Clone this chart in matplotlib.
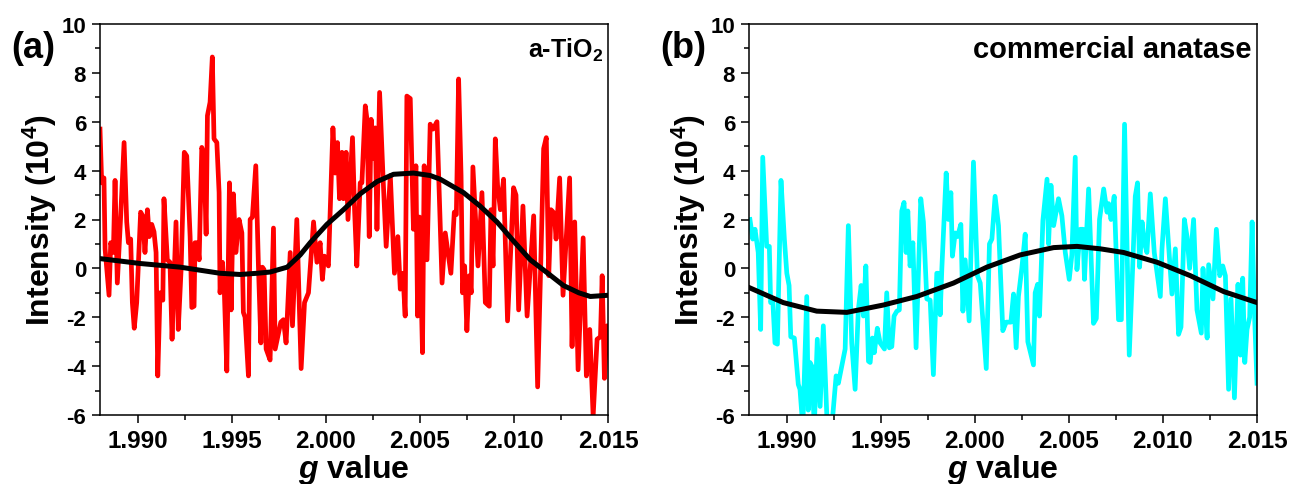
import matplotlib
matplotlib.use("Agg")
import matplotlib.pyplot as plt
from matplotlib.ticker import MultipleLocator

plt.rcParams['font.family'] = ['Liberation Sans', 'DejaVu Sans']
plt.rcParams['font.weight'] = 'bold'
plt.rcParams['axes.unicode_minus'] = False
plt.rcParams['mathtext.fontset'] = 'custom'
plt.rcParams['mathtext.rm'] = 'Liberation Sans:weight=bold'
plt.rcParams['mathtext.bf'] = 'Liberation Sans:weight=bold'
plt.rcParams['mathtext.it'] = 'Liberation Sans:style=italic:weight=bold'

# (a) a-TiO2 spectrum, g value vs intensity (10^4)
g_a = [1.98800, 1.98809, 1.98821, 1.98827, 1.98848, 1.98857, 1.98871, 1.98880, 1.98892, 1.98910,
       1.98928, 1.98942, 1.98951, 1.98963, 1.98972, 1.98982, 1.98995, 1.99016, 1.99027, 1.99039,
       1.99052, 1.99062, 1.99075, 1.99087, 1.99098, 1.99107, 1.99119, 1.99134, 1.99140, 1.99158,
       1.99172, 1.99183, 1.99204, 1.99216, 1.99231, 1.99248, 1.99261, 1.99279, 1.99288, 1.99300,
       1.99305, 1.99318, 1.99327, 1.99341, 1.99353, 1.99364, 1.99371, 1.99385, 1.99397, 1.99406,
       1.99421, 1.99433, 1.99438, 1.99451, 1.99461, 1.99474, 1.99488, 1.99497, 1.99509, 1.99522,
       1.99539, 1.99554, 1.99562, 1.99571, 1.99589, 1.99598, 1.99610, 1.99628, 1.99642, 1.99655,
       1.99663, 1.99672, 1.99683, 1.99704,
       1.99722, 1.99731, 1.99761, 1.99775, 1.99789, 1.99811, 1.99823, 1.99846, 1.99869, 1.99887,
       1.99908, 1.99935, 1.99953, 1.99970, 1.99982, 1.99993, 2.00014, 2.00038, 2.00050, 2.00062,
       2.00073, 2.00086, 2.00094, 2.00108, 2.00118, 2.00142, 2.00153, 2.00165, 2.00183, 2.00192,
       2.00210, 2.00219, 2.00231, 2.00241, 2.00250, 2.00263, 2.00272, 2.00286, 2.00304, 2.00321,
       2.00343, 2.00365, 2.00383, 2.00396, 2.00410, 2.00422, 2.00431, 2.00449, 2.00466, 2.00479,
       2.00488, 2.00498, 2.00514, 2.00523, 2.00538, 2.00555, 2.00570, 2.00591,
       2.00618, 2.00635, 2.00665, 2.00683, 2.00694, 2.00706, 2.00719, 2.00727, 2.00738, 2.00750,
       2.00763, 2.00773, 2.00782, 2.00809, 2.00830, 2.00848, 2.00869, 2.00878, 2.00889, 2.00901,
       2.00913, 2.00928, 2.00945, 2.00966, 2.00998, 2.01011, 2.01025, 2.01048, 2.01070, 2.01083,
       2.01105, 2.01126, 2.01158, 2.01172, 2.01185, 2.01197, 2.01215, 2.01224, 2.01243, 2.01261,
       2.01296, 2.01309, 2.01323, 2.01341, 2.01368, 2.01385, 2.01403, 2.01421, 2.01442, 2.01460,
       2.01469, 2.01481, 2.01495, 2.01507]
int_a = [5.7, 3.5, 3.7, 0.8, -1.1, 1.05, 0.65, 3.6, -0.6, 2.15,
         5.15, 1.9, 1.05, 1.2, -1.4, -2.45, -1.4, 2.3, 2.15, 0.65,
         2.4, 1.3, 1.8, 1.5, 0.65, -4.4, -1.0, -1.3, 2.85, 0.35,
         0.25, -2.9, 1.9, -2.5, -0.05, 4.75, 4.6, 1.3, -1.6, -1.55,
         1.05, 1.05, 0.35, 4.95, 4.6, 1.4, 6.25, 6.8, 8.65, 5.3,
         5.15, 3.1, -1.0, 0.25, -1.0, -4.2, 3.5, -1.7, 3.05, 0.65,
         2.0, 1.45, -1.8, -2.0, -4.4, 2.0, 2.1, 4.2, 0.1, -3.05,
         0.05, -0.05, -3.3, -3.75,
         1.65, -3.3, -2.2, -2.1, -3.05, 0.65, -2.35, 2.0, -4.1, -1.4,
         -1.0, 1.9, 0.25, 1.05, -0.45, 0.5, 0.1, 5.75, 3.9, 5.15,
         2.85, 4.75, 2.85, 4.75, 2.0, 5.35, 2.4, 0.1, 3.5, 3.5,
         6.65, 6.1, 1.3, 6.1, 4.5, 5.75, 1.6, 7.2, 3.8, 0.9,
         3.8, -0.2, 1.3, -0.85, -0.2, -1.95, 7.05, 6.95, 1.6, 4.2,
         -1.95, 2.1, -3.45, 4.2, 0.35, 5.9, 5.7, 6.0,
         -0.6, 1.45, -0.2, 2.3, 2.2, 7.75, 3.8, -1.0, 0.1, -2.55,
         -0.3, -1.0, 4.15, 0.1, 3.1, -1.4, -1.55, 2.4, 0.1, 5.3,
         3.4, 2.4, 3.65, -2.15, 3.3, 3.0, -1.7, 2.55, -1.95, -0.45,
         2.15, -4.85, 4.9, 5.35, -0.3, 2.4, 2.25, 1.2, 3.7, -1.1,
         3.7, -3.2, 1.9, -4.15, 1.25, -4.4, -2.5, -6.05, -2.9, -2.8,
         -0.3, -4.5, -2.35, -2.8]

# fitted curve for (a)
fit_g_a = [1.98800, 1.99013, 1.99226, 1.99438, 1.99545, 1.99635, 1.99704, 1.99795, 1.99864,
           1.99917, 2.00006, 2.00094, 2.00183, 2.00272, 2.00360, 2.00466, 2.00555, 2.00608,
           2.00732, 2.00820, 2.00910, 2.01000, 2.01087, 2.01180, 2.01263, 2.01345, 2.01406, 2.01502]
fit_a = [0.4, 0.2, 0.05, -0.2, -0.25, -0.2, -0.15, 0.05, 0.55,
         1.05, 1.8, 2.4, 3.05, 3.55, 3.85, 3.9, 3.8, 3.65,
         3.1, 2.55, 1.9, 1.1, 0.35, -0.2, -0.7, -1.0, -1.15, -1.1]

# (b) commercial anatase spectrum
g_b = [1.98805, 1.98820, 1.98832, 1.98849, 1.98862, 1.98873, 1.98894, 1.98908, 1.98915, 1.98926,
       1.98938, 1.98951, 1.98970, 1.98988, 1.99001, 1.99013, 1.99022, 1.99041, 1.99062, 1.99071,
       1.99086, 1.99107, 1.99115, 1.99124, 1.99134, 1.99147, 1.99163, 1.99178, 1.99195, 1.99216,
       1.99240, 1.99263, 1.99275, 1.99311, 1.99328, 1.99346, 1.99364, 1.99381, 1.99396, 1.99408,
       1.99421, 1.99435, 1.99444, 1.99456, 1.99466, 1.99482, 1.99497, 1.99520, 1.99532, 1.99546,
       1.99559, 1.99571, 1.99586, 1.99599, 1.99612, 1.99624, 1.99635, 1.99644, 1.99656, 1.99671,
       1.99688, 1.99713, 1.99727, 1.99745, 1.99763, 1.99780, 1.99798, 1.99807, 1.99816, 1.99825,
       1.99848, 1.99860, 1.99873, 1.99881, 1.99896, 1.99908, 1.99926, 1.99937, 1.99949, 1.99970,
       1.99993, 2.00014, 2.00029, 2.00061, 2.00078, 2.00091, 2.00108, 2.00126, 2.00149, 2.00167,
       2.00192, 2.00206, 2.00220, 2.00232, 2.00250, 2.00268, 2.00282, 2.00312, 2.00321, 2.00334,
       2.00344, 2.00362, 2.00384, 2.00392, 2.00405, 2.00419, 2.00445, 2.00463, 2.00481, 2.00502,
       2.00516, 2.00534, 2.00543, 2.00561, 2.00575, 2.00583, 2.00605, 2.00631, 2.00646, 2.00663,
       2.00685, 2.00703, 2.00711, 2.00724, 2.00741, 2.00764, 2.00779, 2.00796, 2.00821, 2.00839,
       2.00853, 2.00865, 2.00876, 2.00889, 2.00901, 2.00915, 2.00933, 2.00954, 2.00986, 2.00995,
       2.01013, 2.01048, 2.01066, 2.01083, 2.01096, 2.01114, 2.01128, 2.01142, 2.01163, 2.01181,
       2.01204, 2.01213, 2.01225, 2.01235, 2.01243, 2.01266, 2.01284, 2.01302, 2.01318, 2.01332,
       2.01349, 2.01362, 2.01380, 2.01399, 2.01412, 2.01424, 2.01435, 2.01447, 2.01461, 2.01474,
       2.01486, 2.01500]
int_b = [2.0, 1.2, 1.6, 0.65, -2.5, 4.55, 0.9, 0.9, -1.4, -1.25,
         -3.05, -3.1, 3.6, 1.2, -0.2, -0.7, -2.8, -2.85, -4.75, -4.95,
         -6.5, -1.15, -5.8, -3.85, -4.0, -6.5, -2.9, -5.65, -2.35, -6.5,
         -6.5, -4.4, -4.7, -3.3, 1.75, -3.05, -4.95, -1.7, -0.7, -1.95,
         0.1, -3.8, -3.85, -2.85, -3.45, -2.45, -3.05, -3.3, -1.0, -3.25,
         -3.2, -1.95, -1.75, -1.7, 2.35, 2.7, 0.65, 2.35, 0.1, 1.05,
         -3.25, 2.85, 1.9, -1.25, -1.3, -4.35, -0.2, -0.2, -1.9, 0.0,
         3.9, 2.0, 3.1, 0.5, 1.45, 1.3, 1.8, -1.75, 0.35, -2.15,
         4.35, -0.3, -0.6, -4.1, 1.0, 1.2, 2.95, 1.75, -2.55, -2.2,
         -2.2, -1.05, -3.25, -1.15, 0.0, 1.4, -3.0, -3.95, -1.0, -0.65,
         -1.95, 1.95, 3.65, 1.0, 3.4, 1.75, 2.85, 2.15, 0.65, -0.45,
         0.55, 4.55, -0.05, 1.6, 1.6, -0.45, 3.25, -2.25, -2.05, 2.0,
         3.25, 2.3, 2.65, 2.0, 2.95, -2.1, -2.1, 5.9, -3.55, 0.0,
         2.95, 3.5, 0.05, 1.9, 1.05, 0.65, 3.05, 0.65, -1.15, 0.8,
         2.85, -1.05, 0.8, -2.7, -2.4, 2.0, 1.3, 0.0, 2.0, -1.7,
         -2.65, 0.0, -1.65, -2.85, 0.15, -1.25, 1.6, -0.3, 0.1, -0.3,
         -4.95, -1.25, -5.3, -0.65, -3.55, -0.4, -3.85, -2.5, -2.0, 1.9,
         -1.7, -4.7]

fit_g_b = [1.98805, 1.98982, 1.99160, 1.99320, 1.99514, 1.99692, 1.99887, 2.00064, 2.00241,
           2.00419, 2.00543, 2.00667, 2.00791, 2.00969, 2.01146, 2.01323, 2.01500]
fit_b = [-0.8, -1.4, -1.75, -1.8, -1.5, -1.15, -0.6, 0.05, 0.55,
         0.85, 0.9, 0.8, 0.65, 0.25, -0.3, -0.95, -1.4]

panels = [
    (g_a, int_a, fit_g_a, fit_a, '#ff0000', '(a)', r'a-TiO$_\mathbf{2}$', 18),
    (g_b, int_b, fit_g_b, fit_b, '#00ffff', '(b)', 'commercial anatase', 21),
]

fig = plt.figure(figsize=(12.94, 4.85), dpi=100)
lefts = [100 / 1294, 749 / 1294]
for left, (gx, gy, fx, fy, color, tag, name, name_size) in zip(lefts, panels):
    ax = fig.add_axes([left, 1 - 416 / 485, 508 / 1294, 391 / 485])
    ax.plot(gx, gy, color=color, lw=3.4, solid_joinstyle='round')
    ax.plot(fx, fy, color='black', lw=3.6)
    ax.set_xlim(1.988, 2.015)
    ax.set_ylim(-6, 10)
    ax.xaxis.set_major_locator(MultipleLocator(0.005))
    ax.xaxis.set_minor_locator(MultipleLocator(0.0025))
    ax.yaxis.set_major_locator(MultipleLocator(2))
    ax.yaxis.set_minor_locator(MultipleLocator(1))
    ax.xaxis.set_major_formatter(plt.FormatStrFormatter('%.3f'))
    ax.tick_params(which='both', direction='out', top=False, right=False, width=1.1)
    ax.tick_params(which='major', length=6, pad=4)
    ax.tick_params(which='minor', length=3.5)
    ax.tick_params(axis='x', labelsize=17.5)
    ax.tick_params(axis='y', labelsize=16)
    for s in ax.spines.values():
        s.set_linewidth(1.1)
    ax.set_xlabel(r'$\mathit{g}$ value', fontsize=23, fontweight='bold', labelpad=0)
    ax.set_ylabel(r'Intensity (10$^\mathbf{4}$)', fontsize=23, fontweight='bold', labelpad=2)
    ax.text(0.99, 0.935, name, transform=ax.transAxes, ha='right', va='center',
            fontsize=name_size, fontweight='bold')
    fig.text(left - 89 / 1294, 1 - 49 / 485, tag, fontsize=26, fontweight='bold',
             ha='left', va='center')

fig.savefig('out.png', dpi=100)
